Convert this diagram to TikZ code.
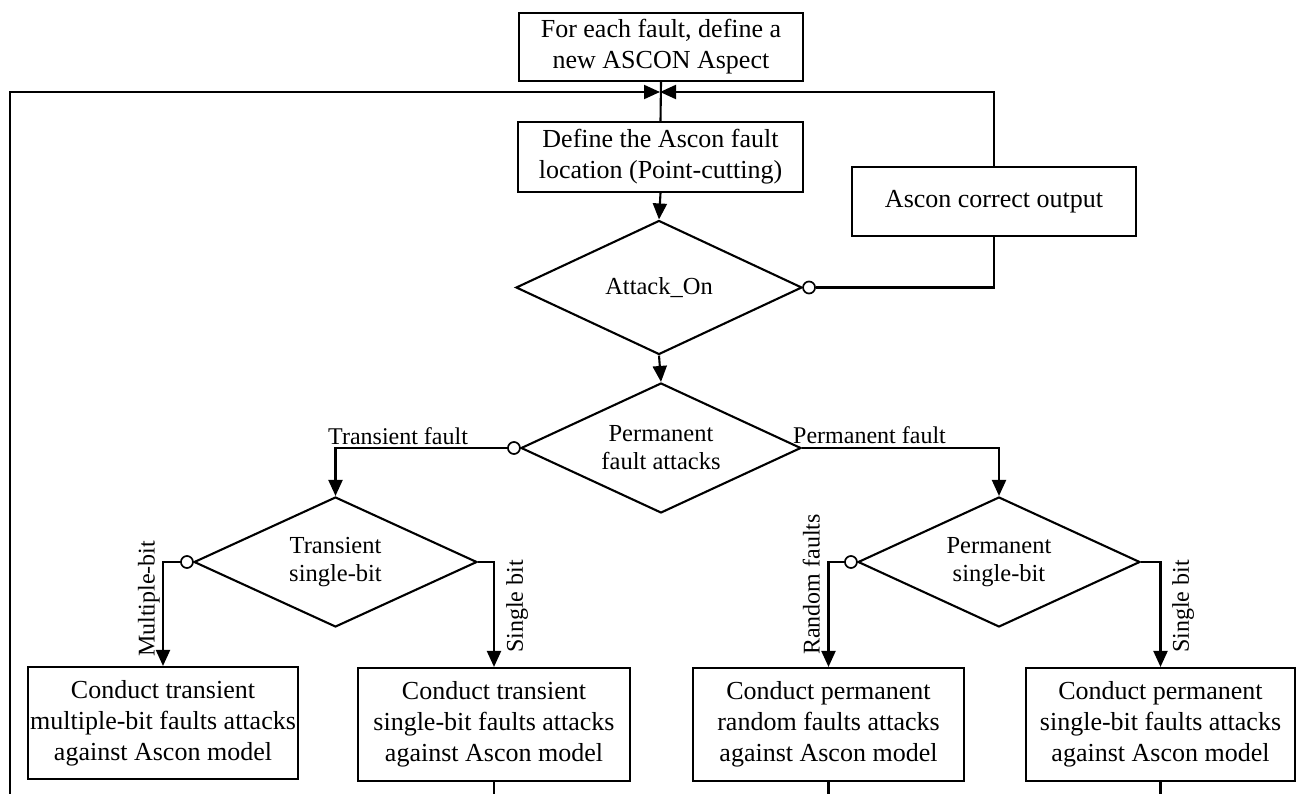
\documentclass[tikz,border=0pt]{standalone}
\usepackage{fontspec}
\setmainfont{Liberation Serif}
\usetikzlibrary{shapes.geometric,arrows.meta}

\begin{document}
\begin{tikzpicture}[x=1pt,y=-1pt,
  every node/.style={font=\fontsize{26}{31}\selectfont},
  box/.style={draw,line width=2.1pt,align=center,inner sep=0pt},
  decision/.style={draw,diamond,line width=2.1pt,align=center,inner sep=0pt,
    aspect=2.1,font=\fontsize{24.5}{28}\selectfont},
  line/.style={line width=2.1pt},
  arr/.style={line width=2.1pt,-{Triangle[length=16pt,width=14pt]}},
  nodot/.style={draw,circle,fill=white,line width=1.7pt,inner sep=0pt,minimum size=12pt},
  lbl/.style={font=\fontsize{24}{28}\selectfont,inner sep=0pt},
]
\useasboundingbox (0,0) rectangle (1296,794);

% process boxes
\node[box,minimum width=284pt,minimum height=68pt] (aspect) at (661,47)
  {For each fault, define a\\new ASCON Aspect};
\node[box,minimum width=285pt,minimum height=70pt] (loc) at (660.5,157)
  {Define the Ascon fault\\location (Point-cutting)};
\node[box,minimum width=284pt,minimum height=69pt] (ok) at (994,201.5)
  {Ascon correct output};

% decisions
\node[decision,minimum width=286pt,minimum height=134pt] (att) at (659,287.5) {Attack\_On};
\node[decision,minimum width=280pt,minimum height=130pt] (perm) at (661,448)
  {Permanent\\fault attacks};
\node[decision,minimum width=283pt,minimum height=130pt] (tsb) at (335.5,562)
  {Transient\\single-bit};
\node[decision,minimum width=282pt,minimum height=130pt] (psb) at (999,562)
  {Permanent\\single-bit};

% attack boxes
\node[box,minimum width=270pt,minimum height=112pt] (b1) at (163,723)
  {Conduct transient\\multiple-bit faults attacks\\against Ascon model};
\node[box,minimum width=272pt,minimum height=113pt] (b2) at (494,724.5)
  {Conduct transient\\single-bit faults attacks\\against Ascon model};
\node[box,minimum width=271pt,minimum height=113pt] (b3) at (828.5,724.5)
  {Conduct permanent\\random faults attacks\\against Ascon model};
\node[box,minimum width=269pt,minimum height=113pt] (b4) at (1160.5,724.5)
  {Conduct permanent\\single-bit faults attacks\\against Ascon model};

% negation circles on the "no" outputs
\node[nodot] (attno) at ([xshift=6pt]att.east) {};
\node[nodot] (permno) at ([xshift=-6pt]perm.west) {};
\node[nodot] (tsbno) at ([xshift=-6pt]tsb.west) {};
\node[nodot] (psbno) at ([xshift=-6pt]psb.west) {};

% loop-back junction and free ends
\coordinate (junc) at (660,92);
\coordinate (loopin) at (10,800);
\coordinate (out2) at (494,800);
\coordinate (out3) at (828.5,800);
\coordinate (out4) at (1160.5,800);

% connectors
\draw[line] (aspect.south) -- (loc.north);
\draw[arr] (loopin) |- (junc);
\draw[arr] (ok.north) |- (junc);
\draw[arr] (loc.south) -- (att.north);
\draw[line] (attno.east) -| (ok.south);
\draw[arr] (att.south) -- (perm.north);
\draw[arr] (permno.west) -| (tsb.north);
\draw[arr] (perm.east) -| (psb.north);
\draw[arr] (tsbno.west) -| (b1.north);
\draw[arr] (tsb.east) -| (b2.north);
\draw[arr] (psbno.west) -| (b3.north);
\draw[arr] (psb.east) -| (b4.north);
\draw[line] (b2.south) -- (out2);
\draw[line] (b3.south) -- (out3);
\draw[line] (b4.south) -- (out4);

% branch labels
\node[lbl,anchor=base west] (ltf) at (328,444) {Transient fault};
\node[lbl,anchor=base west] (lpf) at (793,443) {Permanent fault};
\node[lbl,rotate=90,anchor=south west] (lmb) at (160,657) {Multiple-bit};
\node[lbl,rotate=90,anchor=north west] (lsb1) at (506,653) {Single bit};
\node[lbl,rotate=90,anchor=south west] (lrf) at (820,655) {Random faults};
\node[lbl,rotate=90,anchor=north west] (lsb2) at (1172,653) {Single bit};
\end{tikzpicture}
\end{document}
